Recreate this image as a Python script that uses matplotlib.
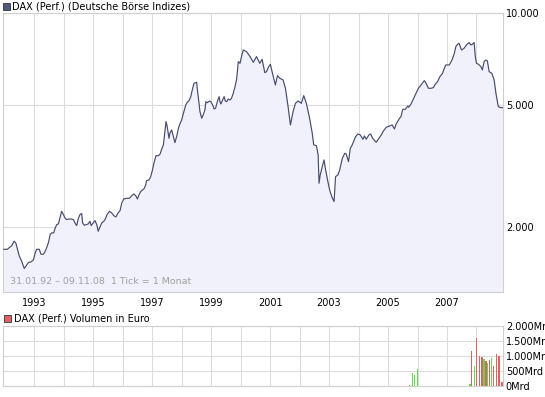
import matplotlib
matplotlib.use("Agg")
import matplotlib.pyplot as plt
from matplotlib.patches import Rectangle
import numpy as np

# ---- data ----
years = [1991.97, 1992.09, 1992.15, 1992.23, 1992.32, 1992.38, 1992.43, 1992.49, 1992.57, 1992.66,
         1992.72, 1992.80, 1992.89, 1992.97, 1993.02, 1993.08, 1993.17, 1993.23, 1993.31, 1993.36,
         1993.42, 1993.48, 1993.54, 1993.59, 1993.66, 1993.70, 1993.76, 1993.82, 1993.87, 1993.93,
         1993.99, 1994.04, 1994.10, 1994.16, 1994.25, 1994.33, 1994.38, 1994.44, 1994.49, 1994.55,
         1994.61, 1994.64, 1994.70, 1994.76, 1994.83, 1994.89, 1994.93, 1995.00, 1995.06, 1995.12,
         1995.17, 1995.23, 1995.29, 1995.36, 1995.41, 1995.47, 1995.55, 1995.63, 1995.70, 1995.77,
         1995.83, 1995.91, 1995.97, 1996.04, 1996.14, 1996.23, 1996.31, 1996.38, 1996.44, 1996.50,
         1996.55, 1996.61, 1996.67, 1996.72, 1996.78, 1996.81, 1996.89, 1996.95, 1997.01, 1997.06,
         1997.13, 1997.21, 1997.27, 1997.32, 1997.38, 1997.42, 1997.47, 1997.51, 1997.57, 1997.60,
         1997.66, 1997.72, 1997.77, 1997.83, 1997.89, 1997.94, 1998.00, 1998.06, 1998.14, 1998.19,
         1998.25, 1998.31, 1998.36, 1998.42, 1998.51, 1998.54, 1998.59, 1998.62, 1998.68, 1998.73,
         1998.79, 1998.82, 1998.87, 1998.94, 1998.99, 1999.05, 1999.10, 1999.15, 1999.21, 1999.27,
         1999.30, 1999.33, 1999.39, 1999.44, 1999.48, 1999.53, 1999.58, 1999.64, 1999.69, 1999.75,
         1999.81, 1999.86, 1999.89, 1999.92, 1999.98, 2000.03, 2000.09, 2000.20, 2000.32, 2000.43,
         2000.54, 2000.65, 2000.73, 2000.82, 2000.88, 2000.94, 2001.01, 2001.08, 2001.18, 2001.25,
         2001.33, 2001.44, 2001.52, 2001.61, 2001.69, 2001.78, 2001.86, 2001.95, 2002.06, 2002.14,
         2002.23, 2002.34, 2002.43, 2002.48, 2002.57, 2002.63, 2002.66, 2002.70, 2002.77, 2002.83,
         2002.88, 2002.96, 2003.02, 2003.09, 2003.17, 2003.22, 2003.30, 2003.36, 2003.45, 2003.53,
         2003.58, 2003.66, 2003.72, 2003.77, 2003.83, 2003.90, 2003.98, 2004.06, 2004.15, 2004.20,
         2004.26, 2004.35, 2004.41, 2004.48, 2004.60, 2004.69, 2004.77, 2004.85, 2004.94, 2005.05,
         2005.14, 2005.22, 2005.27, 2005.39, 2005.44, 2005.50, 2005.59, 2005.67, 2005.70, 2005.78,
         2005.87, 2005.95, 2006.03, 2006.12, 2006.23, 2006.29, 2006.37, 2006.46, 2006.54, 2006.60,
         2006.68, 2006.76, 2006.85, 2006.91, 2006.96, 2007.08, 2007.17, 2007.25, 2007.30, 2007.36,
         2007.41, 2007.49, 2007.58, 2007.66, 2007.75, 2007.81, 2007.86, 2007.92, 2007.96, 2008.00,
         2008.07, 2008.15, 2008.20, 2008.26, 2008.32, 2008.37, 2008.43, 2008.52, 2008.60, 2008.66,
         2008.74, 2008.81, 2008.89]
dax = [1690, 1690, 1710, 1733, 1797, 1767, 1690, 1607, 1548, 1463,
       1490, 1529, 1537, 1560, 1628, 1690, 1690, 1628, 1628, 1656,
       1710, 1776, 1889, 1912, 1912, 1970, 2035, 2046, 2140, 2250,
       2195, 2140, 2113, 2123, 2123, 2113, 2061, 2020, 2123, 2195,
       2212, 2061, 2025, 2035, 2046, 2087, 2020, 2061, 2098, 2035,
       1936, 2000, 2061, 2087, 2123, 2195, 2250, 2221, 2177, 2156,
       2212, 2262, 2398, 2471, 2482, 2482, 2532, 2564, 2532, 2469,
       2545, 2610, 2642, 2663, 2744, 2835, 2849, 2921, 3072, 3230,
       3421, 3421, 3465, 3589, 3709, 3999, 4423, 4259, 3899, 4049,
       4152, 3949, 3775, 3949, 4205, 4345, 4477, 4708, 5012, 5114,
       5179, 5337, 5611, 5902, 5947, 5543, 5075, 4768, 4535, 4649,
       4828, 5140, 5100, 5162, 5140, 5012, 4864, 4889, 5140, 5337,
       5140, 5049, 5204, 5337, 5162, 5140, 5244, 5204, 5270, 5473,
       5754, 6051, 6444, 6947, 6861, 7217, 7586, 7492, 7217, 6912,
       7217, 6861, 7071, 6394, 6443, 6658, 6810, 6363, 5828, 6254,
       6129, 6052, 5684, 4951, 4312, 4768, 5075, 5166, 5075, 5378,
       5075, 4535, 4049, 3709, 3690, 3440, 2779, 2959, 3151, 3313,
       3088, 2814, 2642, 2513, 2421, 2921, 2959, 3072, 3354, 3483,
       3465, 3271, 3618, 3681, 3804, 3949, 4029, 3999, 3871, 3969,
       3871, 3999, 4029, 3899, 3785, 3899, 3999, 4130, 4236, 4279,
       4312, 4183, 4334, 4535, 4592, 4852, 4852, 4976, 4927, 5050,
       5271, 5473, 5684, 5828, 6021, 5902, 5684, 5684, 5713, 5858,
       5977, 6206, 6363, 6609, 6776, 6776, 7036, 7398, 7780, 7919,
       7980, 7586, 7682, 7879, 8020, 7879, 7919, 8020, 7217, 6861,
       6810, 6691, 6525, 6947, 7036, 6984, 6443, 6363, 6050, 5474,
       4951, 4914, 4914]

vol_years = [2005.73, 2005.83, 2005.90, 2006.00, 2007.78, 2007.84, 2007.94, 2008.01, 2008.11, 2008.18,
             2008.25, 2008.32, 2008.38, 2008.45, 2008.51, 2008.58, 2008.68, 2008.76, 2008.87]
vol_mrd = [44, 444, 378, 578, 78, 1156, 678, 1611, 1011, 978,
           889, 833, 756, 867, 944, 656, 1056, 1011, 144]
vol_up = [False, True, True, True, True, False, True, False, False, False,
          True, False, True, False, True, False, False, False, False]

price_ticks = [2000, 5000, 10000]
price_labels = ["2.000", "5.000", "10.000"]
vol_ticks = [0, 500, 1000, 1500, 2000]
vol_labels = ["0Mrd", "500Mrd", "1.000Mrd", "1.500Mrd", "2.000Mrd"]
year_ticks = list(range(1993, 2009))
year_labels = [str(y) if y % 2 == 1 else "" for y in year_ticks]

title_main = "DAX (Perf.) (Deutsche Börse Indizes)"
title_vol = "DAX (Perf.) Volumen in Euro"
range_note = "31.01.92 \u2013 09.11.08  1 Tick = 1 Monat"

# ---- style ----
W, H = 545, 397
LINE = "#464c6c"
FILL = "#f1f1fc"
GRID = "#dcdcdc"
SPINE = "#cfcfcf"
RED = "#df6262"
GREEN = "#62d852"
FS = 7.0
XMIN, XMAX = 1991.94, 2008.90
PLOT_R = 503

plt.rcParams["font.family"] = ["DejaVu Sans"]

fig = plt.figure(figsize=(W / 100, H / 100), dpi=100)
fig.patch.set_facecolor("white")


def frac_box(l, t, r, b):
    return [l / W, 1 - b / H, (r - l) / W, (b - t) / H]


ax = fig.add_axes(frac_box(3, 13.3, PLOT_R, 292))
ax.set_yscale("log")
ax.set_xlim(XMIN, XMAX)
ylo, yhi = 1225, 10000
ax.set_ylim(ylo, yhi)
ax.fill_between(years, dax, ylo, color=FILL, linewidth=0, zorder=1)
ax.plot(years, dax, color=LINE, linewidth=0.85, zorder=3)

ax.set_xticks(year_ticks)
ax.set_xticklabels(year_labels)
ax.set_yticks(price_ticks)
ax.set_yticklabels(price_labels)
ax.yaxis.set_minor_locator(matplotlib.ticker.NullLocator())
ax.yaxis.tick_right()
ax.tick_params(axis="both", length=0, labelsize=FS, colors="black")
ax.tick_params(axis="y", pad=2)
ax.tick_params(axis="x", pad=4)
ax.grid(True, color=GRID, linewidth=0.8, zorder=0)
ax.set_axisbelow(True)
for s in ax.spines.values():
    s.set_color(SPINE)
    s.set_linewidth(0.8)
ax.text(7 / (PLOT_R - 3), 0.022, range_note, transform=ax.transAxes, fontsize=6.8,
        color="#a0a0a0", ha="left", va="bottom", zorder=4)

# volume panel
axv = fig.add_axes(frac_box(3, 326, PLOT_R, 386))
axv.set_xlim(XMIN, XMAX)
axv.set_ylim(0, 2000)
cols = [GREEN if u else RED for u in vol_up]
axv.bar(vol_years, vol_mrd, width=0.05, color=cols, linewidth=0, zorder=3)
axv.set_xticks(year_ticks)
axv.set_xticklabels([])
axv.set_yticks(vol_ticks)
axv.set_yticklabels(vol_labels)
axv.yaxis.tick_right()
axv.tick_params(axis="both", length=0, labelsize=FS, colors="black")
axv.tick_params(axis="y", pad=2)
axv.grid(True, color=GRID, linewidth=0.8, zorder=0)
axv.set_axisbelow(True)
for s in axv.spines.values():
    s.set_color(SPINE)
    s.set_linewidth(0.8)

# legend squares + titles
def legend_square(x, y, color):
    fig.patches.append(Rectangle((x / W, 1 - (y + 7) / H), 7 / W, 7 / H,
                                 transform=fig.transFigure, facecolor=color,
                                 edgecolor="#333333", linewidth=0.6))

legend_square(3, 2.5, "#525a7c")
fig.text(12 / W, 1 - 6.5 / H, title_main, fontsize=FS, ha="left", va="center", color="black")
legend_square(4, 314.5, RED)
fig.text(14 / W, 1 - 318.5 / H, title_vol, fontsize=FS, ha="left", va="center", color="black")

fig.savefig("out.png", dpi=100, facecolor="white")
